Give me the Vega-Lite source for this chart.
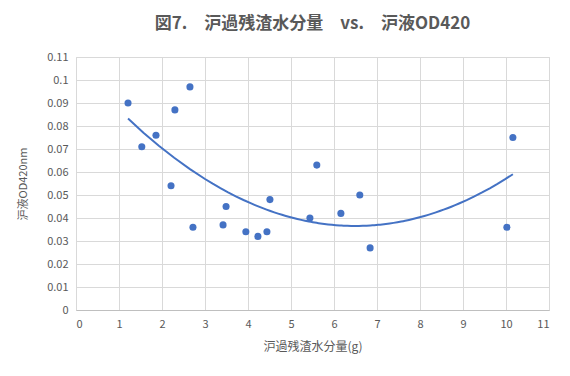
{
  "$schema": "https://vega.github.io/schema/vega-lite/v6.json",
  "width": 473,
  "height": 253,
  "autosize": {"type": "none"},
  "padding": {"left": 76, "top": 57, "right": 21, "bottom": 66},
  "background": "white",
  "config": {
    "font": "Noto Sans CJK JP",
    "view": {"stroke": "#d9d9d9"},
    "axis": {"labelColor": "#595959", "titleColor": "#595959", "labelFontSize": 11, "titleFontSize": 12, "titleFontWeight": "normal", "gridColor": "#d9d9d9", "ticks": false, "domain": false, "labelOverlap": false}
  },
  "title": {"text": "図7.　沪過残渣水分量　vs.　沪液OD420", "fontSize": 17, "fontWeight": "bold", "color": "#595959", "offset": 18, "anchor": "middle"},
  "data": {"values": [
    {"x": 1.21, "y": 0.090}, {"x": 1.53, "y": 0.071}, {"x": 1.86, "y": 0.076},
    {"x": 2.21, "y": 0.054}, {"x": 2.30, "y": 0.087}, {"x": 2.65, "y": 0.097},
    {"x": 2.72, "y": 0.036}, {"x": 3.42, "y": 0.037}, {"x": 3.49, "y": 0.045},
    {"x": 3.95, "y": 0.034}, {"x": 4.23, "y": 0.032}, {"x": 4.44, "y": 0.034},
    {"x": 4.51, "y": 0.048}, {"x": 5.44, "y": 0.040}, {"x": 5.60, "y": 0.063},
    {"x": 6.16, "y": 0.042}, {"x": 6.60, "y": 0.050}, {"x": 6.84, "y": 0.027},
    {"x": 10.02, "y": 0.036}, {"x": 10.16, "y": 0.075}
  ]},
  "encoding": {
    "x": {"field": "x", "type": "quantitative", "scale": {"domain": [0, 11], "nice": false, "zero": true},
      "axis": {"values": [0,1,2,3,4,5,6,7,8,9,10,11], "tickCount": 20, "format": "d", "title": "沪過残渣水分量(g)", "titlePadding": 12, "labelPadding": 8, "domain": true, "domainColor": "#bfbfbf"}},
    "y": {"field": "y", "type": "quantitative", "scale": {"domain": [0, 0.11], "nice": false},
      "axis": {"values": [0,0.01,0.02,0.03,0.04,0.05,0.06,0.07,0.08,0.09,0.1,0.11], "tickCount": 20, "format": "~g", "title": "沪液OD420nm", "titleFontSize": 11, "titlePadding": 18, "labelPadding": 8}}
  },
  "layer": [
    {
      "mark": {"type": "point", "filled": true, "size": 50, "color": "#4472C4", "opacity": 1}
    },
    {
      "transform": [{"regression": "y", "on": "x", "method": "poly", "order": 2}],
      "mark": {"type": "line", "color": "#4472C4", "strokeWidth": 2}
    }
  ]
}
